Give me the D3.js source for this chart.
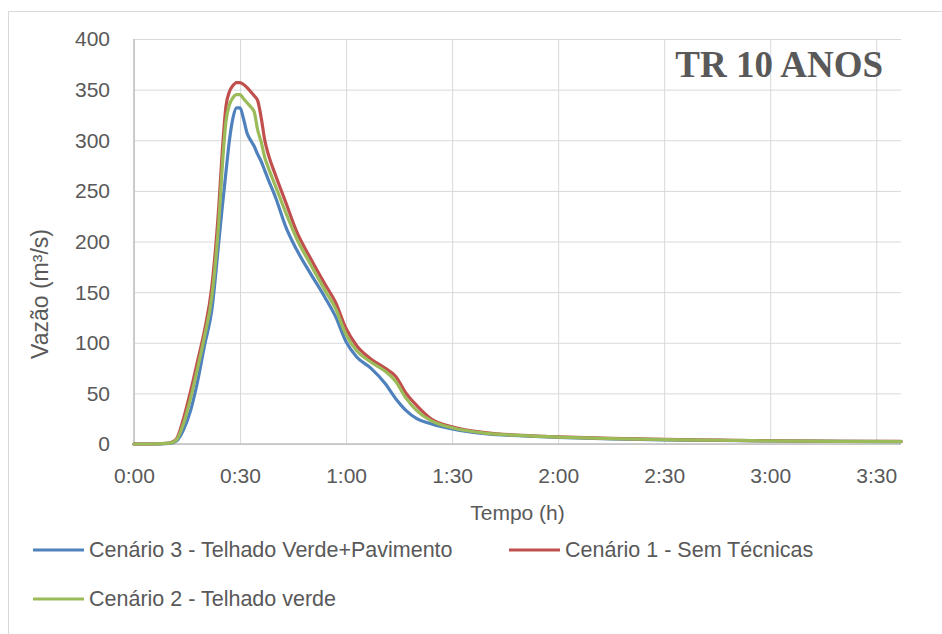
<!DOCTYPE html>
<html lang="en">

<head>
    <meta charset="UTF-8" />
    <title>TR 10 anos - Hidrogramas</title>
    <script src="https://d3js.org/d3.v7.min.js"></script>
    <style>
        body {
            margin: 0;
            background: #ffffff;
        }

        text {
            font-family: "Liberation Sans", Arial, sans-serif;
            fill: #595959;
        }
    </style>
</head>

<body>
    <div id="chart"></div>

    <script>
        // time in minutes
        const tempo = [0, 5, 10, 12, 14, 16, 18, 20, 22, 24, 25, 26, 27, 28, 29, 30, 31, 32, 33, 34, 35, 36, 37, 38,
            40, 43, 46, 50, 54, 57, 60, 63, 67, 71, 74, 77, 80, 84, 90, 100, 110, 120, 135, 150, 165, 180, 200, 217];

        // Cenário 3 - Telhado Verde+Pavimento
        const cenario3 = [0, 0, 0.5, 3, 14, 33, 62, 98, 132, 200, 235, 268, 300, 322, 332, 332, 321, 307, 300, 294, 286, 279, 270, 261,
            244, 214, 192, 168, 145, 126, 101, 86, 75, 60, 45, 33, 25, 20, 15, 10, 8, 6.5, 5, 4, 3.5, 3, 2.5, 2.3];

        // Cenário 1 - Sem Técnicas
        const cenario1 = [0, 0, 1, 5, 25, 52, 82, 113, 155, 235, 290, 333, 348, 354, 357, 357, 355, 352, 348, 344, 339, 322, 300, 286,
            266, 238, 210, 183, 158, 140, 114, 97, 84, 75, 67, 50, 38, 25, 17, 11, 8.5, 7, 5.5, 4.5, 3.8, 3.2, 2.7, 2.5];

        // Cenário 2 - Telhado verde
        const cenario2 = [0, 0, 0.8, 4, 20, 45, 75, 107, 145, 220, 275, 318, 335, 342, 345, 345, 341, 337, 333, 328, 310, 298, 283, 273,
            255, 228, 203, 177, 152, 134, 108, 92, 81, 72, 62, 45, 33, 23, 16, 10.5, 8.3, 6.8, 5.3, 4.3, 3.7, 3.1, 2.6, 2.4];

        const xTicks = [0, 30, 60, 90, 120, 150, 180, 210];
        const yTicks = [0, 50, 100, 150, 200, 250, 300, 350, 400];

        const series = [
            { label: "Cenário 3 - Telhado Verde+Pavimento", values: cenario3, color: "#4F81BD" },
            { label: "Cenário 1 - Sem Técnicas", values: cenario1, color: "#C0504D" },
            { label: "Cenário 2 - Telhado verde", values: cenario2, color: "#9BBB59" }
        ];

        const width = 942;
        const height = 634;
        const plot = { left: 134, right: 901, top: 39, bottom: 444 };

        const svg = d3.select("#chart")
            .append("svg")
            .attr("width", width)
            .attr("height", height);

        svg.append("rect")
            .attr("width", width)
            .attr("height", height)
            .attr("fill", "#ffffff");

        // chart area border
        svg.append("rect")
            .attr("x", 8.5)
            .attr("y", 11.5)
            .attr("width", width + 10)
            .attr("height", height + 10)
            .attr("fill", "none")
            .attr("stroke", "#D9D9D9");

        const x = d3.scaleLinear()
            .domain([0, 217])
            .range([plot.left, plot.right]);

        const y = d3.scaleLinear()
            .domain([0, 400])
            .range([plot.bottom, plot.top]);

        const fmtTime = m => `${Math.floor(m / 60)}:${String(m % 60).padStart(2, "0")}`;

        // horizontal gridlines + y labels
        const yAxis = svg.append("g")
            .attr("transform", `translate(${plot.left},0)`)
            .call(d3.axisLeft(y)
                .tickValues(yTicks)
                .tickSize(-(plot.right - plot.left)));
        yAxis.select(".domain").remove();
        yAxis.selectAll(".tick line").attr("stroke", "#D9D9D9");
        yAxis.selectAll(".tick text")
            .attr("font-size", 21)
            .attr("dy", "0.33em")
            .attr("x", 110 - plot.left)
            .style("font-family", "'Liberation Sans', Arial, sans-serif")
            .style("fill", "#595959");

        // vertical gridlines + x labels
        const xAxis = svg.append("g")
            .attr("transform", `translate(0,${plot.bottom})`)
            .call(d3.axisBottom(x)
                .tickValues(xTicks)
                .tickFormat(fmtTime)
                .tickSize(-(plot.bottom - plot.top)));
        xAxis.select(".domain").remove();
        xAxis.selectAll(".tick line").attr("stroke", "#D9D9D9");
        xAxis.selectAll(".tick text")
            .attr("font-size", 21)
            .attr("y", 39)
            .attr("dy", 0)
            .style("font-family", "'Liberation Sans', Arial, sans-serif")
            .style("fill", "#595959");

        // axis lines
        svg.append("line")
            .attr("x1", plot.left).attr("x2", plot.left)
            .attr("y1", plot.top).attr("y2", plot.bottom)
            .attr("stroke", "#BFBFBF").attr("stroke-width", 1.5);
        svg.append("line")
            .attr("x1", plot.left).attr("x2", plot.right)
            .attr("y1", plot.bottom).attr("y2", plot.bottom)
            .attr("stroke", "#BFBFBF").attr("stroke-width", 1.5);

        // lines
        const line = d3.line()
            .x((d, i) => x(tempo[i]))
            .y(d => y(d))
            .curve(d3.curveMonotoneX);

        svg.append("g")
            .selectAll("path")
            .data(series)
            .join("path")
            .attr("d", d => line(d.values))
            .attr("fill", "none")
            .attr("stroke", d => d.color)
            .attr("stroke-width", 3.2)
            .attr("stroke-linejoin", "round")
            .attr("stroke-linecap", "round");

        // title in plot
        svg.append("text")
            .attr("x", 883)
            .attr("y", 77)
            .attr("text-anchor", "end")
            .attr("font-size", 37)
            .attr("font-weight", "bold")
            .style("font-family", "'Liberation Serif', 'Times New Roman', serif")
            .text("TR 10 ANOS");

        // axis titles
        svg.append("text")
            .attr("x", (plot.left + plot.right) / 2)
            .attr("y", 520)
            .attr("text-anchor", "middle")
            .attr("font-size", 21)
            .text("Tempo (h)");

        svg.append("text")
            .attr("transform", "translate(48,294) rotate(-90)")
            .attr("text-anchor", "middle")
            .attr("font-size", 23)
            .text("Vazão (m³/s)");

        // legend
        const legendPos = [
            { lx: 33, ly: 550 },
            { lx: 509, ly: 550 },
            { lx: 33, ly: 599 }
        ];

        const legend = svg.append("g")
            .selectAll("g")
            .data(series)
            .join("g")
            .attr("transform", (d, i) => `translate(${legendPos[i].lx},${legendPos[i].ly})`);

        legend.append("line")
            .attr("x1", 0).attr("x2", 51)
            .attr("stroke", d => d.color)
            .attr("stroke-width", 3.2);

        legend.append("text")
            .attr("x", 56)
            .attr("y", 7)
            .attr("font-size", 21.5)
            .text(d => d.label);
    </script>

</body>

</html>
